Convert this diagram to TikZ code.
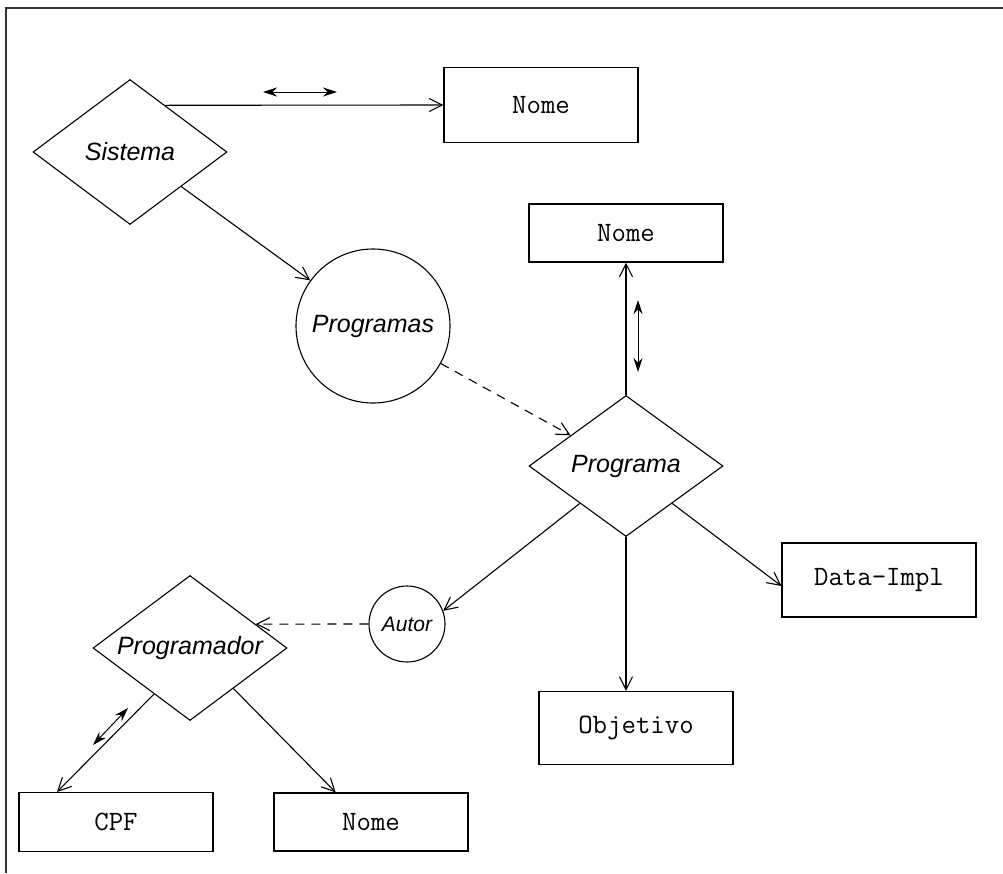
\documentclass[tikz,border=0pt]{standalone}
\usepackage{fontspec}
\usetikzlibrary{shapes.geometric,arrows.meta}
\newfontfamily\labelsans{Liberation Sans}

\begin{document}
\begin{tikzpicture}[x=1pt,y=-1pt,
  rel/.style={draw, diamond, inner sep=0pt, minimum width=194pt, minimum height=145pt,
    line width=1.1pt, font=\labelsans\itshape\fontsize{25}{30}\selectfont},
  ent/.style={draw, rectangle, inner sep=0pt, minimum width=194pt,
    line width=1.1pt, font=\ttfamily\fontsize{28}{32}\selectfont},
  circ/.style={draw, circle, inner sep=0pt, line width=1.1pt,
    font=\labelsans\itshape\fontsize{25}{30}\selectfont},
  conn/.style={line width=1.1pt, -{Straight Barb[length=13pt,width=13pt]}},
  dashedconn/.style={conn, dash pattern=on 9pt off 7pt},
  dbl/.style={line width=1pt,
    {Stealth[length=14pt,width=9pt]}-{Stealth[length=14pt,width=9pt]}},
  frameline/.style={line width=1.6pt, black!80}]

\useasboundingbox (0,0) rectangle (1003,873);

% open frame
\coordinate (fb) at (6,873);
\coordinate (fc) at (6,8);
\coordinate (fr) at (1003,8);
\draw[frameline] (fb) -- (fc) -- (fr);

% entities and relations
\node[rel] (sistema) at (130,152) {\makebox[0pt]{Sistema}};
\node[ent, minimum height=75pt] (nome1) at (541,105) {Nome};
\node[circ, minimum size=154pt] (programas) at (373,326) {Programas};
\node[ent, minimum height=58pt] (nome2) at (626,233) {Nome};
\node[rel, minimum height=141pt] (programa) at (626,466) {\makebox[0pt]{Programa}};
\node[ent, minimum height=74pt] (dataimpl) at (879,580) {Data-Impl};
\node[ent, minimum height=73pt] (objetivo) at (636,728) {Objetivo};
\node[circ, minimum size=76pt, font=\labelsans\itshape\fontsize{21}{25}\selectfont]
  (autor) at (407,624) {Autor};
\node[rel] (programador) at (190,648) {\makebox[0pt]{Programador}};
\node[ent, minimum height=59pt] (cpf) at (116,822) {CPF};
\node[ent, minimum height=58pt] (nome3) at (371,822) {Nome};

% connectors
\draw[conn] (sistema.53) -- (nome1.west);
\draw[conn] (sistema.-34) -- (programas);
\draw[dashedconn] (programas) -- (programa);
\draw[conn] (programa.north) -- (nome2.south);
\draw[conn] (programa.219) -- (autor.20);
\draw[conn] (programa.-39) -- ([yshift=-6pt]dataimpl.west);
\draw[conn] (programa.south) -- (programa.south |- objetivo.north);
\draw[dashedconn] (autor.west) -- (programador.20.4);
\draw[conn] (programador.232) -- (cpf.153);
\draw[conn] (programador.-43) -- (nome3.140);

% two-way markers beside the links
\coordinate (m1a) at (263,92);
\coordinate (m1b) at (337,92);
\draw[dbl] (m1a) -- (m1b);
\coordinate (m2a) at (638,300);
\coordinate (m2b) at (638,372);
\draw[dbl] (m2a) -- (m2b);
\coordinate (m3a) at (93,745);
\coordinate (m3b) at (128,708);
\draw[dbl] (m3a) -- (m3b);

\end{tikzpicture}
\end{document}
